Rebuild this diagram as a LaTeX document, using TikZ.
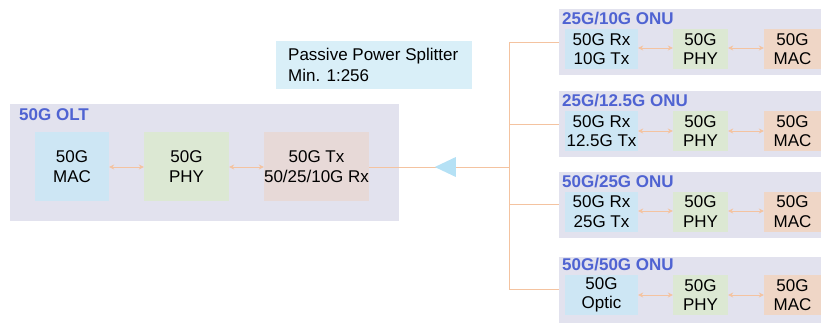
\documentclass[tikz,border=0pt]{standalone}
\usepackage{fontspec}
\setmainfont{Liberation Sans}
\usetikzlibrary{shapes.geometric,arrows.meta}
\definecolor{contc}{HTML}{E2E2EE}
\definecolor{bluec}{HTML}{CDE6F4}
\definecolor{greenc}{HTML}{DCE8D3}
\definecolor{olttx}{HTML}{E7D9D7}
\definecolor{macc}{HTML}{EFD6C6}
\definecolor{splc}{HTML}{D9EFF8}
\definecolor{titlec}{HTML}{4F63D2}
\definecolor{linec}{HTML}{F4C3A0}
\definecolor{tric}{HTML}{B5E1F5}
\tikzset{
  cont/.style={fill=contc, draw=none, inner sep=0pt},
  blk/.style={draw=none, inner sep=0pt, align=center, font=\fontsize{17}{19.5}\selectfont},
  ttl/.style={anchor=west, inner sep=0pt, text=titlec, font=\fontsize{17}{19}\selectfont\bfseries},
  conn/.style={draw=linec, line width=0.9pt},
  biarrow/.style={draw=linec, line width=0.9pt, {Stealth[length=5pt,width=5pt]}-{Stealth[length=5pt,width=5pt]}}
}
\begin{document}
\begin{tikzpicture}[x=1pt,y=-1pt]
\useasboundingbox (0,0) rectangle (821,322);
% OLT
\node[cont, minimum width=389pt, minimum height=117pt] (olt) at (204.5,162.5) {};
\node[ttl] (oltt) at (19,115) {50G OLT};
\node[blk, fill=bluec, minimum width=74pt, minimum height=69pt] (omac) at (72,166.5) {50G\\MAC};
\node[blk, fill=greenc, minimum width=85pt, minimum height=69pt] (ophy) at (186.5,166.5) {50G\\PHY};
\node[blk, fill=olttx, minimum width=105pt, minimum height=69pt] (otx) at (316.5,166.5) {50G Tx\\50/25/10G Rx};
\draw[biarrow] (omac.east |- 0,167) -- (ophy.west |- 0,167);
\draw[biarrow] (ophy.east |- 0,167) -- (otx.west |- 0,167);
% Splitter
\node[fill=splc, inner sep=0pt, minimum width=196pt, minimum height=48pt] (spl) at (374,65) {};
\node[anchor=west, inner sep=0pt, align=left, font=\fontsize{17}{21}\selectfont] (splt) at (288,64.5) {Passive Power Splitter\\Min. 1:256};
% ONUs
\foreach \i/\cy/\by/\ty/\ay/\tt/\ot in {
  1/42/49/19/48/{25G/10G ONU}/{50G Rx\\10G Tx},
  2/123.5/131/101/131/{25G/12.5G ONU}/{50G Rx\\12.5G Tx},
  3/205/211.5/182/211/{50G/25G ONU}/{50G Rx\\25G Tx},
  4/290/295/265/295/{50G/50G ONU}/{50G\\Optic}}{
  \node[cont, minimum width=272pt, minimum height=66pt] (c\i) at (695,\cy) {};
  \node[ttl] (t\i) at (562,\ty) {\tt};
  \node[blk, fill=bluec, minimum width=73pt, minimum height=40pt] (op\i) at (601.5,\by) {\ot};
  \node[blk, fill=greenc, minimum width=55pt, minimum height=40pt] (ph\i) at (700.5,\by) {50G\\PHY};
  \node[blk, fill=macc, minimum width=66pt, minimum height=40pt, text width=60pt] (ma\i) at (797,\by) {\hspace*{-9pt}50G\\\hspace*{-9pt}MAC};
  \draw[biarrow] (op\i.east |- 0,\ay) -- (ph\i.west |- 0,\ay);
  \draw[biarrow] (ph\i.east |- 0,\ay) -- (ma\i.west |- 0,\ay);
}
% fibre
\coordinate (hub) at (509,167);
\coordinate (b1) at (509,42);
\coordinate (b2) at (509,124);
\coordinate (b3) at (509,204);
\coordinate (b4) at (509,289);
\draw[conn] (otx.east |- hub) -- (hub);
\draw[conn] (b1) -- (b4);
\foreach \i in {1,2,3,4}{\draw[conn] (b\i) -- (c\i.west |- b\i);}
\node[isosceles triangle, shape border rotate=180, isosceles triangle stretches, fill=tric, inner sep=0pt, minimum height=21pt, minimum width=20pt] (tri) at (449.5,167) {};
\end{tikzpicture}
\end{document}
